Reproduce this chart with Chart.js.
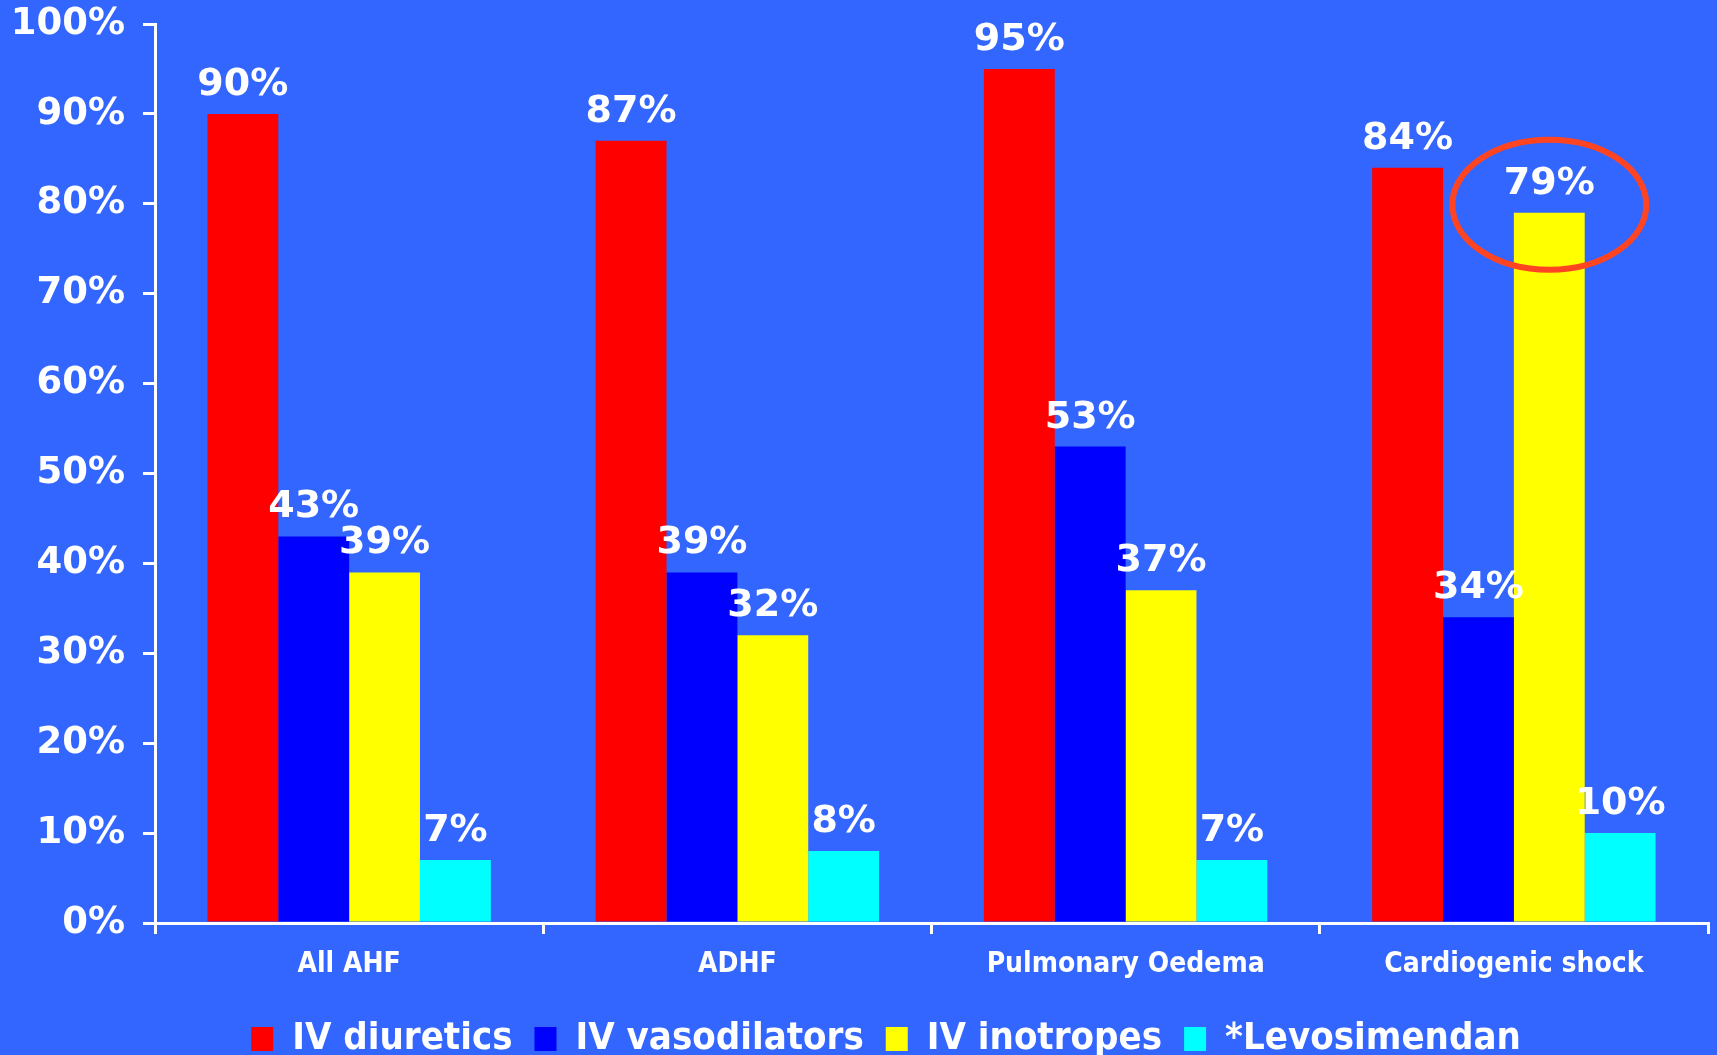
<!DOCTYPE html>
<html>
<head>
<meta charset="utf-8">
<script src="https://cdn.jsdelivr.net/npm/chart.js@4.4.1/dist/chart.umd.min.js"></script>
<style>
  html, body { margin: 0; padding: 0; background: #3366FF; }
  #wrap { width: 1717px; height: 1055px; position: relative; }
</style>
</head>
<body>
<div id="wrap"><canvas id="c"></canvas></div>
<script>
// ---- data ----
const categories = ['All AHF', 'ADHF', 'Pulmonary Oedema', 'Cardiogenic shock'];
const seriesNames = ['IV diuretics', 'IV vasodilators', 'IV inotropes', '*Levosimendan'];
const ivDiuretics = [90, 87, 95, 84];
const ivVasodilators = [43, 39, 53, 34];
const ivInotropes = [39, 32, 37, 79];
const levosimendan = [7, 8, 7, 10];
const yTickValues = [0, 10, 20, 30, 40, 50, 60, 70, 80, 90, 100];
const highlightSeries = 2;   // IV inotropes
const highlightCategory = 3; // Cardiogenic shock

// ---- styles ----
const seriesColors = ['#FF0000', '#0000FF', '#FFFF00', '#00FFFF'];
const WHITE = '#FFFFFF';
const SANS_BOLD = "'DejaVu Sans', Verdana, sans-serif";
const SANS_COND = "'DejaVu Sans Condensed', 'DejaVu Sans', sans-serif";

const seriesValues = [ivDiuretics, ivVasodilators, ivInotropes, levosimendan];

const valueLabelPlugin = {
  id: 'valueLabels',
  afterDatasetsDraw(chart) {
    const ctx = chart.ctx;
    ctx.save();
    ctx.fillStyle = WHITE;
    ctx.font = "bold 38px " + SANS_BOLD;
    ctx.textAlign = 'center';
    ctx.textBaseline = 'alphabetic';
    chart.data.datasets.forEach((ds, di) => {
      const meta = chart.getDatasetMeta(di);
      meta.data.forEach((bar, i) => {
        ctx.fillText(ds.data[i] + '%', bar.x, bar.y - 19);
      });
    });
    ctx.restore();
  }
};

const highlightPlugin = {
  id: 'highlightEllipse',
  afterDatasetsDraw(chart) {
    const bar = chart.getDatasetMeta(highlightSeries).data[highlightCategory];
    if (!bar) return;
    const ctx = chart.ctx;
    ctx.save();
    ctx.strokeStyle = '#FF4422';
    ctx.lineWidth = 6;
    ctx.beginPath();
    ctx.ellipse(bar.x, bar.y - 8, 97, 65, 0, 0, Math.PI * 2);
    ctx.stroke();
    ctx.restore();
  }
};

const legendShiftPlugin = {
  id: 'legendShift',
  afterLayout(chart) {
    const lg = chart.legend;
    if (!lg) return;
    const dx = 32, dy = 13;
    lg.left += dx; lg.right += dx;
    lg.top += dy; lg.bottom += dy;
  }
};

new Chart(document.getElementById('c'), {
  type: 'bar',
  data: {
    labels: categories,
    datasets: seriesNames.map((name, i) => ({
      label: name,
      data: seriesValues[i],
      backgroundColor: seriesColors[i],
      borderWidth: 0,
      categoryPercentage: 0.73,
      barPercentage: 1.0
    }))
  },
  options: {
    responsive: true,
    maintainAspectRatio: false,
    animation: false,
    layout: { padding: { left: 0, right: 9, top: 0, bottom: 0 } },
    plugins: {
      tooltip: { enabled: false },
      legend: {
        position: 'bottom',
        labels: {
          color: WHITE,
          font: { family: SANS_COND, size: 38, weight: 'bold' },
          boxWidth: 22,
          boxHeight: 24,
          padding: 22
        }
      }
    },
    scales: {
      x: {
        afterFit(scale) { scale.height = 62; },
        grid: {
          display: true,
          drawOnChartArea: false,
          drawTicks: true,
          tickLength: 11,
          color: WHITE,
          lineWidth: 3,
          offset: true
        },
        border: { display: true, color: WHITE, width: 3 },
        ticks: {
          color: WHITE,
          font: { family: SANS_COND, size: 28, weight: 'bold' },
          padding: 14,
          maxRotation: 0
        }
      },
      y: {
        min: 0,
        max: 100,
        afterBuildTicks(scale) {
          scale.ticks = yTickValues.map(v => ({ value: v }));
        },
        afterFit(scale) {
          scale.width = 155;
          scale.paddingTop = 24;
        },
        grid: {
          display: true,
          drawOnChartArea: false,
          drawTicks: true,
          tickLength: 12,
          color: WHITE,
          lineWidth: 3
        },
        border: { display: true, color: WHITE, width: 3 },
        ticks: {
          color: WHITE,
          font: { family: SANS_BOLD, size: 37, weight: 'bold' },
          padding: 18,
          callback: v => v + '%'
        }
      }
    }
  },
  plugins: [valueLabelPlugin, highlightPlugin, legendShiftPlugin]
});
</script>
</body>
</html>
